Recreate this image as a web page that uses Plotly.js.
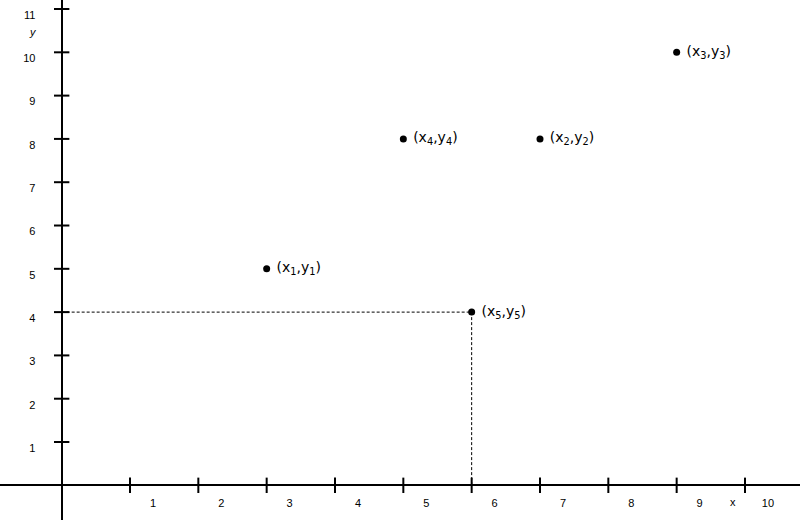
<!DOCTYPE html>
<html><head><meta charset="utf-8">
<script src="https://cdn.plot.ly/plotly-3.0.1.min.js"></script>
<style>html,body{margin:0;padding:0;background:#fff}#chart{width:800px;height:520px}</style>
</head><body><div id="chart"></div>
<script>
// Data
const pointX = [3, 7, 9, 5, 6];
const pointY = [5, 8, 10, 8, 4];
const pointLabels = ['(x<sub>1</sub>,y<sub>1</sub>)', '(x<sub>2</sub>,y<sub>2</sub>)', '(x<sub>3</sub>,y<sub>3</sub>)', '(x<sub>4</sub>,y<sub>4</sub>)', '(x<sub>5</sub>,y<sub>5</sub>)'];
const xTickVals = [1,2,3,4,5,6,7,8,9,10];
const yTickVals = [1,2,3,4,5,6,7,8,9,10,11];
const xTickLabels = ['1','2','3','4','5','6','7','8','9','10'];
const yTickLabels = ['1','2','3','4','5','6','7','8','9','10','11'];
const highlightIndex = 4;

const xRange = [-0.9025, 10.805];
const yRange = [-0.801, 11.208];

const hx = pointX[highlightIndex], hy = pointY[highlightIndex];
const fontFam = 'Liberation Sans, Arial, sans-serif';
const labelFam = 'DejaVu Sans, sans-serif';

const traces = [
  { // dashed guide lines to highlighted point
    x: [0, hx, hx], y: [hy, hy, 0], mode: 'lines',
    line: {color: '#000', width: 1, dash: '3px,2px'}, hoverinfo: 'skip'
  },
  { // x tick marks crossing axis
    x: xTickVals, y: xTickVals.map(() => 0), mode: 'markers',
    marker: {symbol: 'line-ns-open', size: 11, color: '#000', line: {color: '#000', width: 2}}, hoverinfo: 'skip'
  },
  { // y tick marks crossing axis
    x: yTickVals.map(() => 0), y: yTickVals, mode: 'markers',
    marker: {symbol: 'line-ew-open', size: 11, color: '#000', line: {color: '#000', width: 2}}, hoverinfo: 'skip'
  },
  { // points
    x: pointX, y: pointY, mode: 'markers+text', text: pointLabels.map(t => ' ' + t),
    textposition: 'middle right',
    textfont: {family: labelFam, size: 14, color: '#000'},
    marker: {color: '#000', size: 7}, cliponaxis: false
  }
];

const layout = {
  width: 800, height: 520,
  margin: {l: 0, r: 0, t: 0, b: 0},
  paper_bgcolor: '#fff', plot_bgcolor: '#fff',
  showlegend: false,
  font: {family: fontFam, size: 11, color: '#000'},
  xaxis: {
    range: xRange, anchor: 'free',
    position: (0 - yRange[0]) / (yRange[1] - yRange[0]),
    showgrid: false, zeroline: false,
    showline: true, linecolor: '#000', linewidth: 2,
    ticks: '', tickvals: xTickVals, ticktext: xTickLabels,
    ticklabelshift: 23, ticklabelstandoff: 7,
    tickfont: {family: fontFam, size: 11, color: '#000'}
  },
  yaxis: {
    range: yRange, anchor: 'free',
    position: (0 - xRange[0]) / (xRange[1] - xRange[0]),
    showgrid: false, zeroline: false,
    showline: true, linecolor: '#000', linewidth: 2,
    ticks: '', tickvals: yTickVals, ticktext: yTickLabels,
    ticklabelshift: 6, ticklabelstandoff: 23,
    tickfont: {family: fontFam, size: 11, color: '#000'}
  },
  annotations: [
    {x: 9.82, y: 0, yshift: -17, xref: 'x', yref: 'y', text: 'x', showarrow: false,
     font: {family: fontFam, size: 11, color: '#000'}},
    {x: -0.42, y: 10.46, xref: 'x', yref: 'y', text: '<i>y</i>', showarrow: false,
     font: {family: fontFam, size: 11, color: '#000'}}
  ]
};

Plotly.newPlot('chart', traces, layout, {displayModeBar: false, staticPlot: true});
</script></body></html>
